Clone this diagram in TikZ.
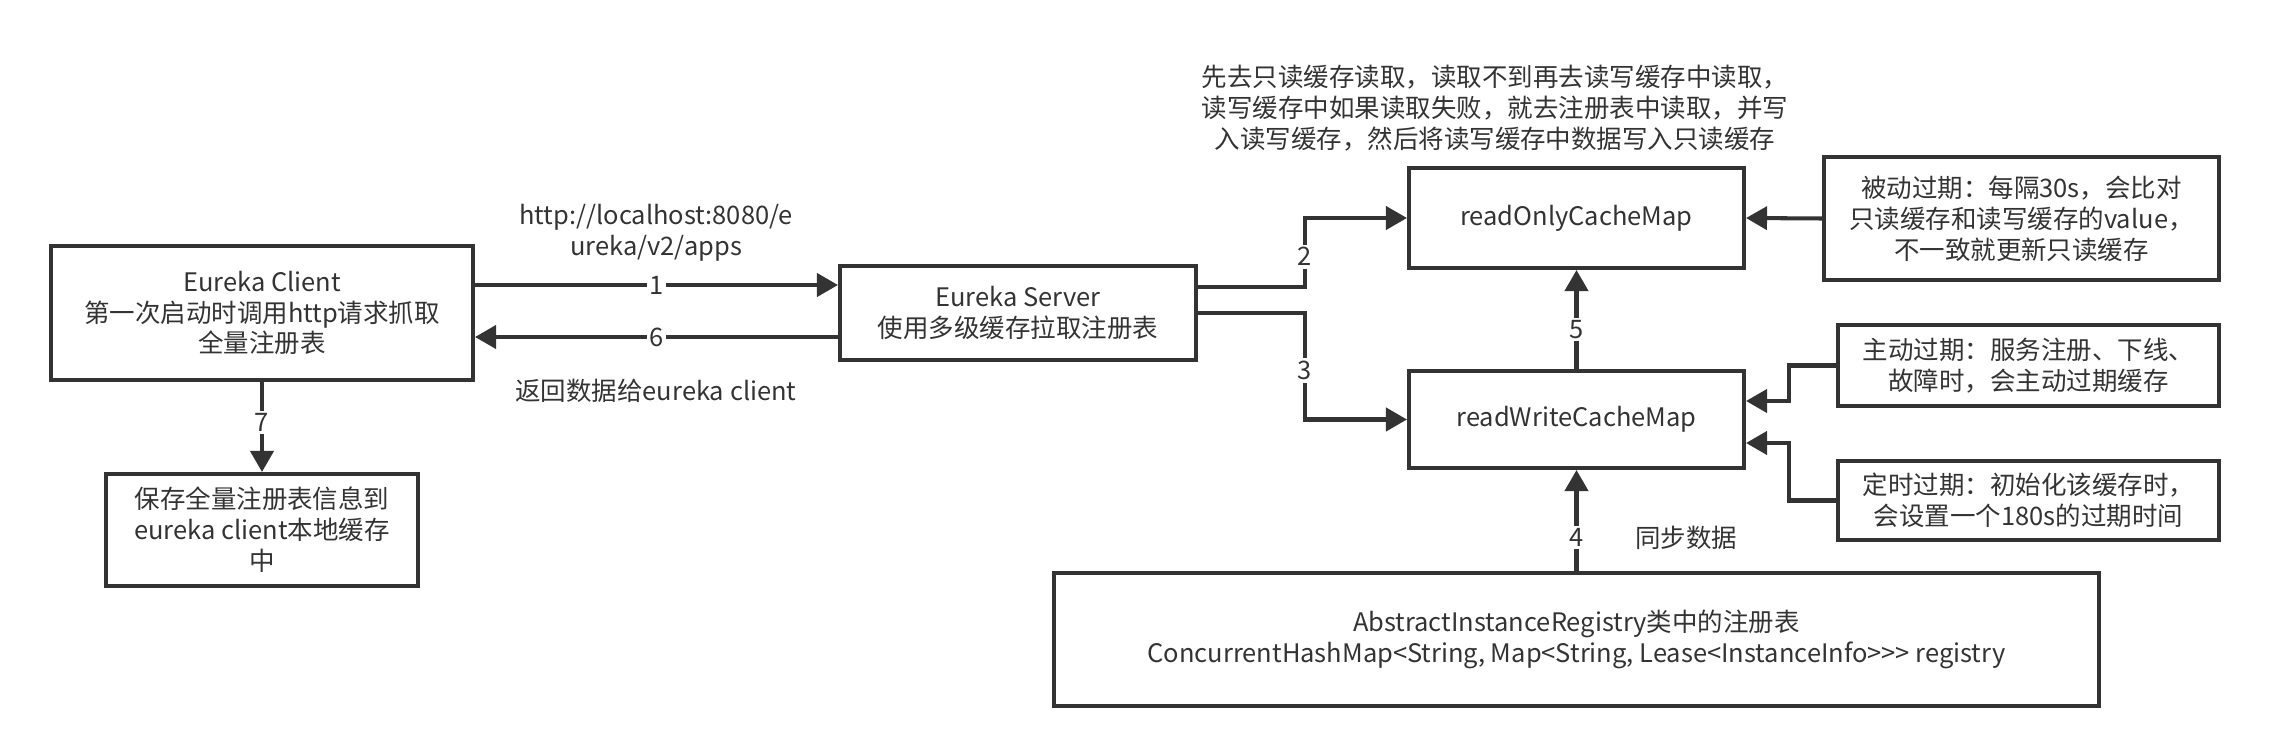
\documentclass[tikz,border=0pt]{standalone}
\usepackage{fontspec}
\setmainfont{Noto Sans CJK SC}
\usepackage{tikz}
\usetikzlibrary{arrows.meta}
\definecolor{ink}{HTML}{333333}

\begin{document}
\begin{tikzpicture}[
    font=\fontsize{14.5pt}{17.6pt}\selectfont,
    every node/.style={text=ink},
    box/.style={draw=ink, line width=2.3pt, align=center, inner sep=2pt},
    line/.style={draw=ink, line width=2.3pt, -{Triangle[length=0.42cm,width=0.46cm]}},
    num/.style={fill=white, inner sep=1.5pt}
]
    \useasboundingbox (0,0) rectangle (45.42,-15.1);

    % Client
    \node[box, minimum width=8.44cm, minimum height=2.68cm] (client) at (5.24,-6.26)
        {Eureka Client\\第一次启动时调用http请求抓取\\全量注册表};
    \node[box, minimum width=6.24cm, minimum height=2.24cm] (save) at (5.24,-10.6)
        {保存全量注册表信息到\\eureka client本地缓存\\中};

    % Server
    \node[box, minimum width=7.12cm, minimum height=1.88cm] (server) at (20.36,-6.26)
        {Eureka Server\\使用多级缓存拉取注册表};

    % Caches
    \node[box, minimum width=6.7cm, minimum height=2.0cm] (ro) at (31.53,-4.36) {readOnlyCacheMap};
    \node[box, minimum width=6.7cm, minimum height=1.94cm] (rw) at (31.53,-8.39) {readWriteCacheMap};

    % Expiry
    \node[box, minimum width=7.9cm, minimum height=2.46cm] (passive) at (40.43,-4.37)
        {被动过期：每隔30s，会比对\\只读缓存和读写缓存的value，\\不一致就更新只读缓存};
    \node[box, minimum width=7.62cm, minimum height=1.62cm] (active) at (40.57,-7.31)
        {主动过期：服务注册、下线、\\故障时，会主动过期缓存};
    \node[box, minimum width=7.62cm, minimum height=1.58cm] (timed) at (40.57,-10.01)
        {定时过期：初始化该缓存时，\\会设置一个180s的过期时间};

    % Registry
    \node[box, minimum width=20.9cm, minimum height=2.66cm] (registry) at (31.53,-12.79)
        {AbstractInstanceRegistry类中的注册表\\ConcurrentHashMap<String, Map<String, Lease<InstanceInfo>\kern0pt>\kern0pt> registry};

    % Texts
    \node[align=center] (url) at (13.12,-4.66) {http://localhost:8080/e\\ureka/v2/apps};
    \node (back) at (13.12,-7.82) {返回数据给eureka client};
    \node[align=center] (note) at (29.9,-2.16)
        {先去只读缓存读取，读取不到再去读写缓存中读取，\\读写缓存中如果读取失败，就去注册表中读取，并写\\入读写缓存，然后将读写缓存中数据写入只读缓存};
    \node (sync) at (33.72,-10.76) {同步数据};

    % Arrows
    \draw[line] ([yshift=0.56cm]client.east) -- ([yshift=0.56cm]client.east -| server.west)
        node[num, midway] {1};
    \draw[line] ([yshift=-0.48cm]server.west) -- ([yshift=-0.48cm]server.west -| client.east)
        node[num, midway] {6};
    \draw[line] (client.south) -- (save.north) node[num, pos=0.45] {7};

    \draw[line] ([yshift=0.52cm]server.east) -- ++(2.14,0) |- (ro.west) node[num, pos=0.22] {2};
    \draw[line] (server.east) -- ++(2.14,0) |- (rw.west) node[num, pos=0.27] {3};

    \draw[line] (rw.north) -- (ro.south) node[num, pos=0.4] {5};
    \draw[line] (registry.north) -- (rw.south) node[num, pos=0.33] {4};

    \draw[line] (passive.west) -- (ro.east);
    \draw[line] (active.west) -- ++(-0.94,0) |- ([yshift=0.37cm]rw.east);
    \draw[line] (timed.west) -- ++(-0.94,0) |- ([yshift=-0.47cm]rw.east);

\end{tikzpicture}
\end{document}
